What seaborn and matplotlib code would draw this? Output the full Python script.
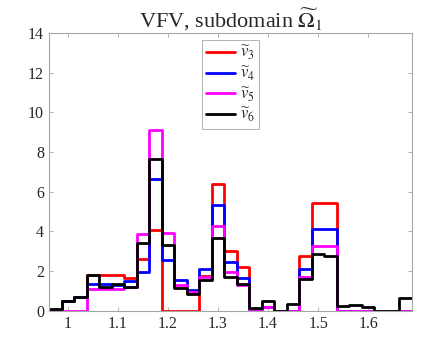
import numpy as np
import pandas as pd
import matplotlib
matplotlib.use("Agg")
import matplotlib.pyplot as plt
import seaborn as sns

# --- data ---
BIN_START = 0.9625
BIN_WIDTH = 0.025
N_BINS = 29

v3 = [0.00, 0.47, 0.70, 1.78, 1.80, 1.80, 1.63, 2.60, 4.08, 0.00,
      0.00, 0.00, 1.75, 6.39, 3.01, 2.19, 0.10, 0.20, 0.00, 0.00,
      2.76, 5.45, 5.45, 0.00, 0.00, 0.00, 0.00, 0.00, 0.00]
v4 = [0.00, 0.47, 0.70, 1.35, 1.33, 1.30, 1.50, 1.95, 6.64, 2.58,
      1.53, 1.02, 2.12, 5.33, 2.44, 1.65, 0.10, 0.20, 0.00, 0.00,
      2.09, 4.10, 4.10, 0.00, 0.00, 0.00, 0.00, 0.00, 0.00]
v5 = [0.00, 0.00, 0.00, 1.07, 1.07, 1.07, 1.20, 3.85, 9.10, 3.92,
      1.30, 0.96, 1.72, 4.25, 1.97, 1.30, 0.07, 0.20, 0.00, 0.00,
      1.71, 3.27, 3.27, 0.00, 0.00, 0.00, 0.00, 0.00, 0.00]
v6 = [0.08, 0.47, 0.70, 1.78, 1.22, 1.33, 1.22, 3.40, 7.65, 3.33,
      1.16, 0.85, 1.57, 3.68, 1.71, 1.37, 0.15, 0.50, 0.00, 0.35,
      1.58, 2.87, 2.75, 0.22, 0.28, 0.20, 0.00, 0.00, 0.62]

series_labels = [r"$\widetilde{v}_3$", r"$\widetilde{v}_4$",
                 r"$\widetilde{v}_5$", r"$\widetilde{v}_6$"]
series_colors = ["#ff0000", "#0000ff", "#ff00ff", "#000000"]

xtick_vals = [1.0, 1.1, 1.2, 1.3, 1.4, 1.5, 1.6]
xtick_labels = ["1", "1.1", "1.2", "1.3", "1.4", "1.5", "1.6"]
ytick_vals = [0, 2, 4, 6, 8, 10, 12, 14]

edges = [BIN_START + BIN_WIDTH * k for k in range(N_BINS + 1)]
centers = [e + BIN_WIDTH / 2 for e in edges[:-1]]

sns.set_style("white")
plt.rcParams["font.family"] = ["Liberation Serif", "DejaVu Serif"]
plt.rcParams["mathtext.fontset"] = "stix"

fig = plt.figure(figsize=(4.43, 3.45), dpi=100)
ax = fig.add_axes([0.1106, 0.0994, 0.8194, 0.8049])

for vals, lab, col in zip([v3, v4, v5, v6], series_labels, series_colors):
    df = pd.DataFrame({"x": centers, "w": vals})
    sns.histplot(data=df, x="x", weights="w", bins=edges, element="step",
                 fill=False, color=col, linewidth=2.0, label=lab, ax=ax)

ax.set_xlim(edges[0], edges[-1])
ax.set_ylim(0, 14)
ax.set_xticks(xtick_vals)
ax.set_xticklabels(xtick_labels)
ax.set_yticks(ytick_vals)
ax.set_xlabel("")
ax.set_ylabel("")
ax.set_title(r"VFV, subdomain $\widetilde{\Omega}_1$", fontsize=16, pad=4)

gray = "#a6a6a6"
for sp in ax.spines.values():
    sp.set_color(gray)
    sp.set_linewidth(0.8)
    sp.set_visible(True)
ax.tick_params(direction="in", length=3, width=0.6, color=gray,
               labelsize=11.5, labelcolor="#262626",
               top=True, right=True, bottom=True, left=True)

leg = ax.legend(loc="upper center", fontsize=12, frameon=True,
                fancybox=False, framealpha=1, edgecolor=gray,
                borderaxespad=0.4, handlelength=1.7, handletextpad=0.3,
                labelspacing=0.15, borderpad=0.25)
leg.get_frame().set_linewidth(0.6)

fig.savefig("out.png", dpi=100)
plt.close(fig)
